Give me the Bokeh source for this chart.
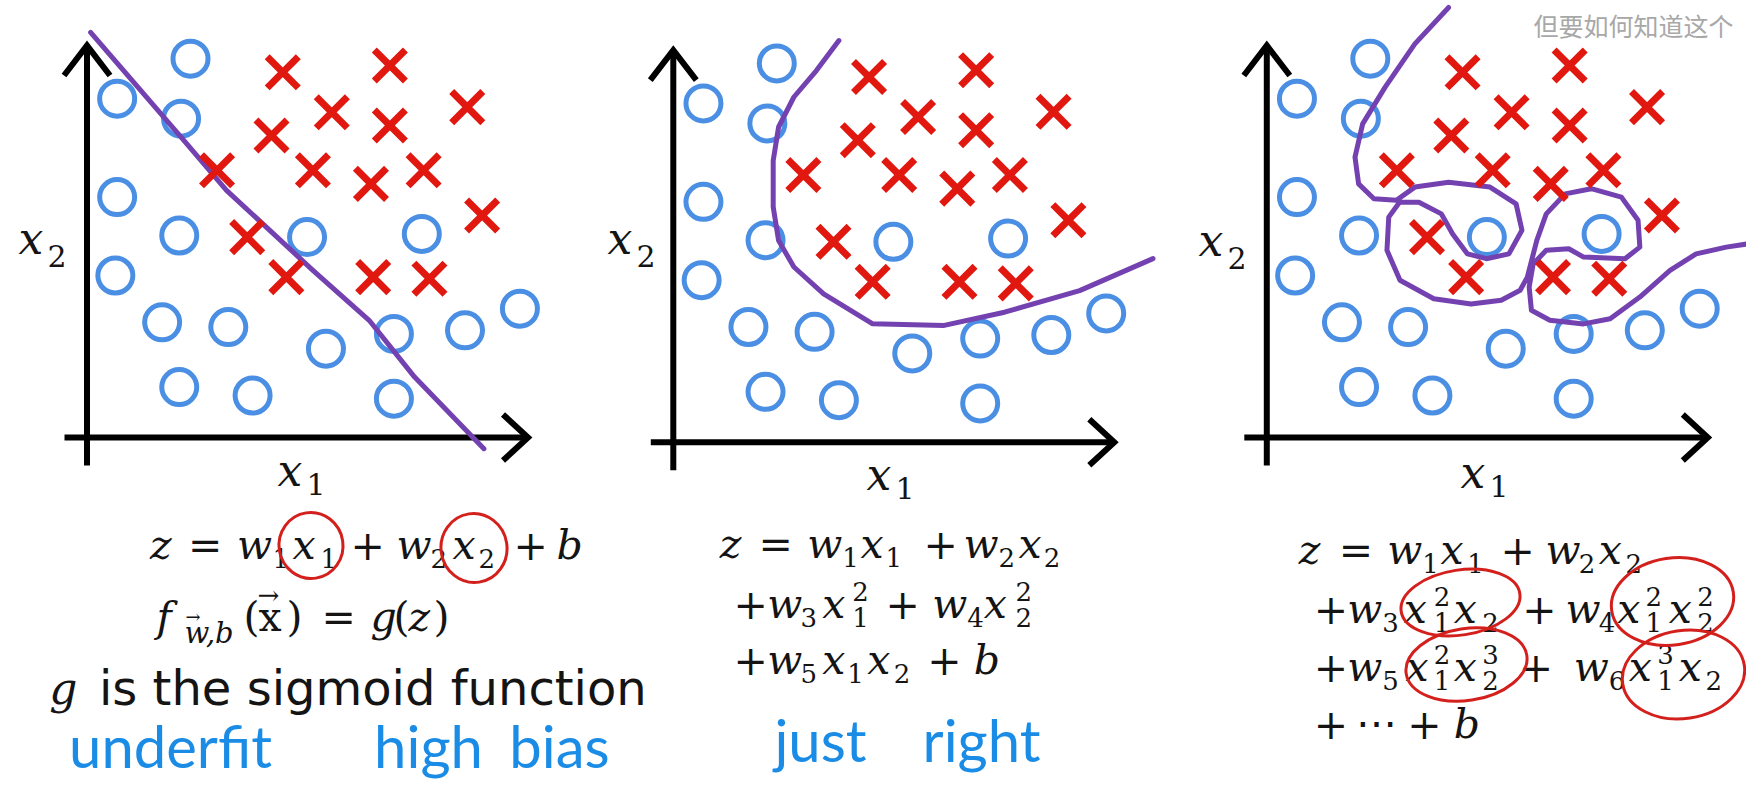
from bokeh.plotting import figure
from bokeh.models import Range1d
from bokeh.core.properties import value, field
from bokeh.embed import file_html
from bokeh.resources import INLINE

# ---------------- data (x1, x2 in feature units) ----------------
circle_x1 = [2.30, 0.67, 2.09, 0.67, 2.05, 4.89, 7.44, 0.63, 1.67, 3.14, 5.31, 6.82, 8.40, 9.62, 2.05, 3.68, 6.82]
circle_x2 = [9.47, 8.47, 7.97, 6.01, 5.05, 5.01, 5.09, 4.05, 2.88, 2.76, 2.22, 2.59, 2.68, 3.22, 1.26, 1.05, 0.97]
cross_x1 = [4.35, 6.73, 5.44, 6.73, 8.45, 4.10, 2.89, 5.02, 6.31, 7.48, 8.78, 3.56, 4.43, 6.36, 7.61]
cross_x2 = [9.13, 9.30, 8.13, 7.80, 8.26, 7.55, 6.68, 6.68, 6.34, 6.68, 5.55, 5.01, 4.01, 4.01, 3.97]

# decision boundaries
linear_x1 = [0.08, 2.09, 3.10, 5.02, 6.27, 7.28, 8.82]
linear_x2 = [10.13, 7.51, 6.18, 4.18, 2.93, 1.51, -0.28]
quad_x1 = [3.68, 3.18, 2.68, 2.34, 2.22, 2.22, 2.34, 2.68, 3.34, 4.43, 6.02, 7.36, 9.03, 10.66]
quad_x2 = [10.04, 9.29, 8.63, 7.88, 7.04, 5.88, 5.04, 4.38, 3.71, 2.96, 2.92, 3.25, 3.79, 4.59]
high_x1 = [4.04, 3.29, 2.63, 2.13, 1.96, 2.04, 2.38, 2.88, 3.29, 4.04, 4.96, 5.54, 5.67, 5.38, 4.88, 4.46, 4.13,
           3.88, 3.38, 2.95, 2.71, 2.67, 2.96, 3.71, 4.54, 5.21, 5.63, 5.79, 6.00, 6.21, 6.63, 7.21, 7.88, 8.25,
           8.29, 7.96, 7.04, 6.71, 6.21, 5.92, 5.83, 5.88, 6.29, 7.04, 7.63, 8.29, 8.96, 9.54, 10.21, 10.92, 11.10]
high_x2 = [10.75, 9.84, 8.76, 7.84, 7.01, 6.34, 5.97, 5.93, 6.26, 6.38, 6.26, 5.84, 5.18, 4.59, 4.47, 4.59, 5.09,
           5.59, 5.88, 5.88, 5.51, 4.68, 3.93, 3.47, 3.34, 3.43, 3.68, 4.01, 4.93, 5.59, 6.09, 6.22, 6.01, 5.43,
           4.76, 4.47, 4.51, 4.72, 4.68, 4.34, 3.76, 3.18, 2.93, 2.84, 2.97, 3.51, 4.18, 4.59, 4.76, 4.88, 4.92]

fit_words = ["underfit", "high", "bias", "just", "right"]
sigmoid_note = "is the sigmoid function"
overlay_caption = "但要如何知道这个"

# ---------------- layout / style ----------------
W, H = 1746, 780
L0, T0 = 0, 0
PXX, PXY = 45.0, 40.0                      # pixels per feature unit
origins = {"p1": (86.5, 437.0), "p2": (672.8, 441.7), "p3": (1266.3, 437.0)}
BLUE = "#4a8fe3"
RED = "#e01810"
PURPLE = "#7441b0"
INK = "#141414"
HAND = "#1a8ce6"
CIRC = "#d4201c"
SERIF = "DejaVu Serif"
SANS = "DejaVu Sans"
BASE_SHIFT = 0.33                          # em; aligns glyph baseline to intended baseline

p = figure(width=W, height=H, x_range=Range1d(L0, L0 + W), y_range=Range1d(T0 + H, T0),
           output_backend="svg", toolbar_location=None, min_border=0,
           x_axis_location=None, y_axis_location=None, background_fill_color="white")
p.outline_line_color = None
for g in p.grid:
    g.visible = False

for name, (ox, oy) in origins.items():
    p.extra_x_ranges[name] = Range1d((L0 - ox) / PXX, (L0 + W - ox) / PXX)
    p.extra_y_ranges[name] = Range1d((oy - (T0 + H)) / PXY, (oy - T0) / PXY)

boundaries = {"p1": (linear_x1, linear_x2), "p2": (quad_x1, quad_x2), "p3": (high_x1, high_x2)}
AX_END = 9.8
for name in ["p1", "p2", "p3"]:
    kw = dict(x_range_name=name, y_range_name=name)
    p.segment(x0=[0, -0.5], y0=[-0.7, 0], x1=[0, AX_END], y1=[AX_END, 0],
              line_width=6, line_color="black", **kw)
    ya, yb = 23 / PXX, 30 / PXY
    xa, xb = 25 / PXX, 23 / PXY
    p.multi_line(xs=[[-ya, 0, ya], [AX_END - xa, AX_END, AX_END - xa]],
                 ys=[[AX_END - yb, AX_END, AX_END - yb], [xb, 0, -xb]],
                 line_width=6, line_color="black", line_join="miter", **kw)
    p.scatter(circle_x1, circle_x2, marker="circle", size=35, fill_color=None,
              line_color=BLUE, line_width=5, **kw)
    bx, by = boundaries[name]
    p.line(bx, by, line_width=5, line_color=PURPLE, line_join="round", line_cap="round", **kw)
    p.scatter(cross_x1, cross_x2, marker="x", size=44, line_color=RED, line_width=7, **kw)

# ---------------- texts ----------------
texts = []


def put(x, y, t, size, font=SERIF, style="italic", color=INK, align="left"):
    texts.append(dict(x=x, y=y - BASE_SHIFT * size, text=t, size=f"{size}px", font=font, style=style,
                      color=color, align=align))


MAIN, SUB = 41, 26


def formula(base, tokens):
    for t, x, role in tokens:
        if role == "v":
            put(x, base, t, MAIN, style="italic")
        elif role == "o":
            put(x, base, t, MAIN, style="normal")
        elif role == "b":
            put(x, base + 9, t, SUB, style="normal")
        elif role == "p":
            put(x, base - 17, t, SUB, style="normal")


def axis_labels(xlab, ylab):
    (x1, y1), (x2, y2) = xlab, ylab
    put(x1, y1, "x", 44)
    put(x1 + 29, y1 + 8, "1", 30, style="normal")
    put(x2, y2, "x", 44)
    put(x2 + 29, y2 + 12, "2", 30, style="normal")


axis_labels((277, 485), (18, 253))
axis_labels((866, 489), (607, 253))
axis_labels((1460, 487), (1198, 255))

# panel 1 formulas
formula(558, [("z", 149.6, "v"), ("=", 187.5, "o"), ("w", 236.6, "v"), ("1", 272, "b"), ("x", 292, "v"),
              ("1", 320, "b"), ("+", 350, "o"), ("w", 396, "v"), ("2", 430, "b"), ("x", 452, "v"),
              ("2", 478, "b"), ("+", 513, "o"), ("b", 556, "v")])
formula(630, [("f", 156, "v"), ("(", 243, "o"), ("x", 258, "o"), (")", 286, "o"), ("=", 321, "o"),
              ("g", 370, "v"), ("(", 393, "o"), ("z", 408, "v"), (")", 433, "o")])
put(257, 603, "\u2192", 26, style="normal")          # vector arrow over x
put(184, 642, "w,b", 29, style="italic")
put(185, 622, "\u2192", 18, style="normal")          # vector arrow over w
put(48.7, 703, "g", 44)
put(98.5, 703, sigmoid_note, 48, font=SANS, style="normal")

# panel 2 formulas
formula(557, [("z", 719.3, "v"), ("=", 758, "o"), ("w", 806.7, "v"), ("1", 841.7, "b"), ("x", 860, "v"),
              ("1", 885, "b"), ("+", 923, "o"), ("w", 963, "v"), ("2", 998, "b"), ("x", 1018, "v"),
              ("2", 1043.3, "b")])
formula(617, [("+", 733, "o"), ("w", 766.7, "v"), ("3", 800, "b"), ("x", 821.7, "v"), ("2", 851.7, "p"),
              ("1", 851.7, "b"), ("+", 885, "o"), ("w", 931.7, "v"), ("4", 966.7, "b"), ("x", 983.3, "v"),
              ("2", 1015, "p"), ("2", 1015, "b")])
formula(673, [("+", 733, "o"), ("w", 766.7, "v"), ("5", 800, "b"), ("x", 821.7, "v"), ("1", 846.7, "b"),
              ("x", 866.7, "v"), ("2", 893.3, "b"), ("+", 926.7, "o"), ("b", 973.3, "v")])

# panel 3 formulas
formula(563, [("z", 1298.3, "v"), ("=", 1338.3, "o"), ("w", 1386.7, "v"), ("1", 1421.7, "b"), ("x", 1440, "v"),
              ("1", 1466.7, "b"), ("+", 1500, "o"), ("w", 1545, "v"), ("2", 1578.3, "b"), ("x", 1598.3, "v"),
              ("2", 1625, "b")])
formula(622, [("+", 1313.3, "o"), ("w", 1346.7, "v"), ("3", 1381.7, "b"), ("x", 1403.3, "v"), ("2", 1433.3, "p"),
              ("1", 1433.3, "b"), ("x", 1453.3, "v"), ("2", 1481.7, "b"), ("+", 1521.7, "o"), ("w", 1565, "v"),
              ("4", 1598.3, "b"), ("x", 1616.7, "v"), ("2", 1645, "p"), ("1", 1645, "b"), ("x", 1668.3, "v"),
              ("2", 1696.7, "p"), ("2", 1696.7, "b")])
formula(680, [("+", 1313.3, "o"), ("w", 1346.7, "v"), ("5", 1381.7, "b"), ("x", 1405, "v"), ("2", 1433.3, "p"),
              ("1", 1433.3, "b"), ("x", 1453.3, "v"), ("3", 1481.7, "p"), ("2", 1481.7, "b"), ("+", 1518.3, "o"),
              ("w", 1573.3, "v"), ("6", 1608.3, "b"), ("x", 1628.3, "v"), ("3", 1656.7, "p"), ("1", 1656.7, "b"),
              ("x", 1678.3, "v"), ("2", 1705, "b")])
formula(737, [("+", 1313.3, "o"), ("\u22ef", 1355, "o"), ("+", 1406.7, "o"), ("b", 1453.3, "v")])

# handwritten captions (kept inside the canvas)
for word, cx, by in zip(fit_words, [170, 428, 559, 820, 981], [764, 764, 764, 758, 758]):
    put(cx, by, word, 58, font="Lato", style="normal", color=HAND, align="center")

put(1533, 33, overlay_caption, 25, font="Noto Sans CJK SC", style="normal", color="#a8a8a8")

groups = {}
for t in texts:
    groups.setdefault((t["font"], t["style"], t["align"]), []).append(t)
for (font, style, align), items in groups.items():
    data = {k: [it[k] for it in items] for k in ["x", "y", "text", "size", "color"]}
    p.text(x="x", y="y", text="text", source=data, text_font=value(font), text_font_style=style,
           text_font_size=field("size"), text_color=field("color"), text_align=align,
           text_baseline="alphabetic")

# red hand-drawn loops around the highlighted terms
loops_x = [310.5, 473.5, 1460, 1672, 1466, 1683]
loops_y = [545, 547.5, 602, 601, 664, 674]
loops_w = [64, 66, 120, 123, 122, 123]
loops_h = [66, 69, 65, 87, 72, 88]
p.ellipse(x=loops_x, y=loops_y, width=loops_w, height=loops_h, angle=0.15,
          fill_color=None, line_color=CIRC, line_width=3)

open("out.html", "w").write(file_html(p, INLINE))
